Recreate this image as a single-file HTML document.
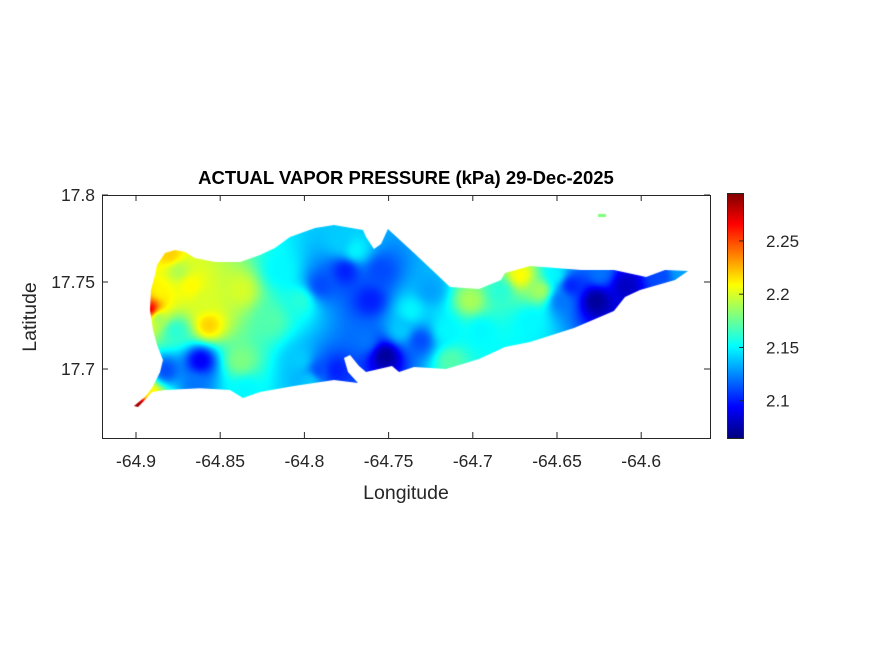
<!DOCTYPE html>
<html><head><meta charset="utf-8"><style>
body{margin:0;background:#fff;}
#wrap{position:relative;width:875px;height:656px;overflow:hidden;font-family:"Liberation Sans",sans-serif;}
svg{position:absolute;left:0;top:0;}
canvas{position:absolute;}
</style></head><body>
<div id="wrap">
<canvas id="map" width="608" height="243" style="left:102px;top:195px"></canvas>
<canvas id="cbar" width="16" height="245" style="left:727px;top:193px"></canvas>
<svg id="svg" width="875" height="656"></svg>
</div>
<script>
// ---- data ----
const xTicks=[-64.9,-64.85,-64.8,-64.75,-64.7,-64.65,-64.6];
const yTicks=[17.7,17.75,17.8];
const cTicks=[2.1,2.15,2.2,2.25];
const cMin=2.065, cMax=2.295;
const coastLon=[-64.9012,-64.8947,-64.8905,-64.8857,-64.8840,-64.8875,-64.8899,-64.8917,-64.8911,-64.8887,-64.8875,-64.8828,-64.8768,-64.8709,-64.8650,-64.8531,-64.8382,-64.8264,-64.8175,-64.8086,-64.7937,-64.7824,-64.7652,-64.7634,-64.7587,-64.7545,-64.7504,-64.7349,-64.7135,-64.6963,-64.6833,-64.6809,-64.6660,-64.6357,-64.6162,-64.5971,-64.5859,-64.5722,-64.5799,-64.6007,-64.6096,-64.6162,-64.6399,-64.6660,-64.6809,-64.6963,-64.7159,-64.7349,-64.7438,-64.7480,-64.7634,-64.7676,-64.7729,-64.7765,-64.7741,-64.7682,-64.7824,-64.8062,-64.8264,-64.8365,-64.8442,-64.8620,-64.8828,-64.8905,-64.8947,-64.8988];
const coastLat=[17.6787,17.6839,17.6891,17.6983,17.7052,17.7138,17.7224,17.7339,17.7454,17.7540,17.7598,17.7667,17.7684,17.7672,17.7638,17.7615,17.7615,17.7655,17.7695,17.7759,17.7810,17.7828,17.7799,17.7759,17.7690,17.7718,17.7805,17.7667,17.7471,17.7460,17.7511,17.7552,17.7592,17.7569,17.7569,17.7529,17.7569,17.7563,17.7511,17.7454,17.7414,17.7333,17.7236,17.7155,17.7126,17.7057,17.7000,17.7011,17.6983,17.7017,17.6983,17.7017,17.7080,17.7063,17.6983,17.6920,17.6937,17.6902,17.6868,17.6833,17.6879,17.6890,17.6879,17.6868,17.6822,17.6782];
const islet={lon:-64.6233,lat:17.7885,value:2.18};
const stLon=[-64.8917,-64.8988,-64.8929,-64.8857,-64.8751,-64.8798,-64.8679,-64.8572,-64.8590,-64.8382,-64.8768,-64.8828,-64.8620,-64.8650,-64.8382,-64.8353,-64.8204,-64.8145,-64.8026,-64.8026,-64.7967,-64.7919,-64.7818,-64.7907,-64.7789,-64.7759,-64.7700,-64.7610,-64.7640,-64.7521,-64.7432,-64.7373,-64.7314,-64.7551,-64.7254,-64.7165,-64.7135,-64.7017,-64.6957,-64.6838,-64.6720,-64.6601,-64.6660,-64.6482,-64.6423,-64.6274,-64.6096,-64.5888,-64.5770,-64.6512,-64.6245,-64.8880];
const stLat=[17.7339,17.6799,17.6862,17.7454,17.7569,17.7655,17.7483,17.7253,17.7397,17.7454,17.7224,17.6994,17.7052,17.6908,17.7052,17.6879,17.7282,17.7569,17.7052,17.7397,17.6937,17.6994,17.6994,17.7483,17.7741,17.7569,17.7684,17.7397,17.7167,17.7080,17.7224,17.7339,17.7167,17.7569,17.7454,17.7224,17.7052,17.7397,17.7224,17.7454,17.7540,17.7454,17.7282,17.7397,17.7483,17.7397,17.7483,17.7540,17.7557,17.7540,17.7552,17.7300];
const stVal=[2.28,2.29,2.21,2.21,2.19,2.22,2.21,2.22,2.20,2.20,2.16,2.11,2.09,2.12,2.18,2.15,2.17,2.15,2.14,2.16,2.14,2.11,2.10,2.11,2.14,2.10,2.15,2.10,2.12,2.07,2.14,2.15,2.11,2.11,2.13,2.15,2.17,2.19,2.15,2.16,2.21,2.19,2.15,2.12,2.10,2.07,2.08,2.11,2.13,2.15,2.12,2.18];

// ---- scales ----
const AX={l:102,t:195,r:710,b:438};
const xS=lon=>136+(lon+64.9)*1684;
const yS=lat=>195+(17.8-lat)*1740;
const cS=v=>193+(cMax-v)/(cMax-cMin)*245;
function jet(t){t=Math.max(0,Math.min(1,t));
 const f=x=>Math.max(0,Math.min(1,x));
 return [f(1.5-Math.abs(4*t-3)),f(1.5-Math.abs(4*t-2)),f(1.5-Math.abs(4*t-1))].map(c=>Math.round(c*255));}

// ---- map ----
const mc=document.getElementById('map').getContext('2d');
const W=608,H=243,img=mc.createImageData(W,H);
const sx=stLon.map(xS), sy=stLat.map(yS);
for(let j=0;j<H;j++)for(let i=0;i<W;i++){
 const X=i+AX.l,Y=j+AX.t;let ws=0,vs=0;
 for(let k=0;k<sx.length;k++){const d=(sx[k]-X)**2+(sy[k]-Y)**2+30;const w=1/(d*Math.sqrt(d));ws+=w;vs+=w*stVal[k];}
 const c=jet((vs/ws-cMin)/(cMax-cMin));const p=(j*W+i)*4;
 img.data[p]=c[0];img.data[p+1]=c[1];img.data[p+2]=c[2];img.data[p+3]=255;}
const tmp=document.createElement('canvas');tmp.width=W;tmp.height=H;tmp.getContext('2d').putImageData(img,0,0);
mc.save();mc.beginPath();
coastLon.forEach((lo,k)=>{const x=xS(lo)-AX.l,y=yS(coastLat[k])-AX.t;k?mc.lineTo(x,y):mc.moveTo(x,y);});
mc.closePath();mc.clip();mc.drawImage(tmp,0,0);mc.restore();
const ic=jet((islet.value-cMin)/(cMax-cMin));
mc.fillStyle=`rgb(${ic})`;mc.fillRect(xS(islet.lon)-AX.l-4,yS(islet.lat)-AX.t-1,8,3);

// ---- colorbar ----
const cc=document.getElementById('cbar').getContext('2d');
for(let j=0;j<245;j++){const c=jet(1-j/244);cc.fillStyle=`rgb(${c})`;cc.fillRect(0,j,16,1);}

// ---- axes svg ----
const svg=document.getElementById('svg');const NS='http://www.w3.org/2000/svg';
function mk(tag,at,txt){const e=document.createElementNS(NS,tag);for(const k in at)e.setAttribute(k,at[k]);if(txt!=null)e.textContent=txt;svg.appendChild(e);return e;}
let e=mk('rect',{x:AX.l+.5,y:AX.t+.5,width:AX.r-AX.l,height:AX.b-AX.t,fill:'none',stroke:'#262626','stroke-width':1});


xTicks.forEach(v=>{const x=xS(v);
 mk('line',{x1:x,x2:x,y1:AX.b,y2:AX.b-6,stroke:'#262626'});
 mk('line',{x1:x,x2:x,y1:AX.t,y2:AX.t+6,stroke:'#262626'});
 const t=mk('text',{x:x,y:AX.b+29,'text-anchor':'middle','font-size':17.5,fill:'#262626'},String(v));
 
 });
yTicks.forEach(v=>{const y=yS(v);
 mk('line',{x1:AX.l,x2:AX.l+6,y1:y,y2:y,stroke:'#262626'});
 mk('line',{x1:AX.r,x2:AX.r-6,y1:y,y2:y,stroke:'#262626'});
 const t=mk('text',{x:AX.l-7,y:y+6,'text-anchor':'end','font-size':17.5,fill:'#262626'},String(v));
 
 });
e=mk('rect',{x:727.5,y:193.5,width:16,height:245,fill:'none',stroke:'#262626'});


cTicks.forEach(v=>{const y=cS(v);
 mk('line',{x1:739,x2:743,y1:y,y2:y,stroke:'#262626'});
 const t=mk('text',{x:766,y:y+6,'font-size':17,fill:'#262626'},String(v));
 
 });
e=mk('text',{x:406,y:184,'text-anchor':'middle','font-size':18.5,'font-weight':'bold',fill:'#000'},'ACTUAL VAPOR PRESSURE (kPa) 29-Dec-2025');


e=mk('text',{x:406,y:499,'text-anchor':'middle','font-size':19.5,fill:'#262626'},'Longitude');


e=mk('text',{x:36,y:317,'text-anchor':'middle','font-size':19.5,fill:'#262626',transform:'rotate(-90 36 317)'},'Latitude');


</script>
</body></html>
